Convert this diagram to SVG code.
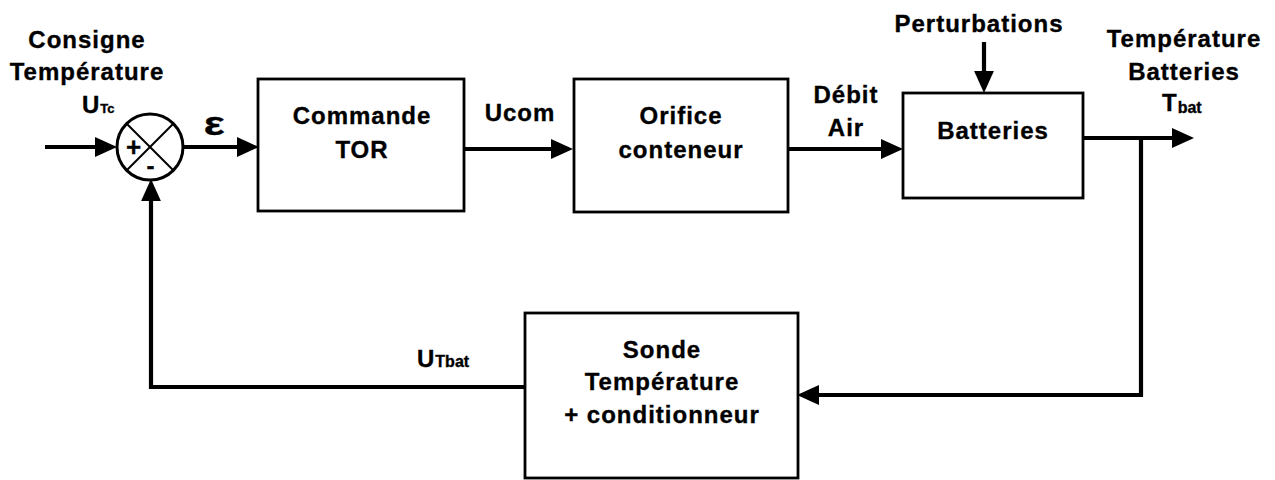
<svg xmlns="http://www.w3.org/2000/svg" width="1275" height="480" viewBox="0 0 1275 480">
<style>
.box{fill:#fff;stroke:#000;stroke-width:2.8}
.wire{fill:none;stroke:#000;stroke-width:4.2}
.thin{stroke:#000;stroke-width:2}
text{font-family:"Liberation Sans",Arial,sans-serif;font-weight:bold;fill:#000;stroke:#000;stroke-width:0.35;font-size:24px;letter-spacing:1px}
.c{text-anchor:middle}
</style>
<defs>
<marker id="arr" markerUnits="userSpaceOnUse" markerWidth="22" markerHeight="20" refX="10" refY="9" orient="auto" viewBox="0 0 20 18">
<path d="M0,0 L20,9 L0,18 z" fill="#000"/>
</marker>
</defs>
<rect width="1275" height="480" fill="#fff"/>
<g id="connectors">
<path class="wire" d="M45,147 H106" marker-end="url(#arr)"/>
<path class="wire" d="M183,147 H248" marker-end="url(#arr)"/>
<path class="wire" d="M464,149 H562" marker-end="url(#arr)"/>
<path class="wire" d="M788,149 H892" marker-end="url(#arr)"/>
<path class="wire" d="M984,42 V82" marker-end="url(#arr)"/>
<path class="wire" d="M1083,138 H1183" marker-end="url(#arr)"/>
<path class="wire" d="M1141,138 V395 H808" marker-end="url(#arr)"/>
<path class="wire" d="M525,387 H151 V190" marker-end="url(#arr)"/>
</g>
<g id="sum">
<circle cx="150" cy="147" r="33" fill="#fff" stroke="#000" stroke-width="3"/>
<line class="thin" x1="127" y1="124" x2="173" y2="170"/>
<line class="thin" x1="173" y1="124" x2="127" y2="170"/>
<text class="c" x="134" y="156" style="font-size:26px">+</text>
<text class="c" x="151" y="174" style="font-size:24px">-</text>
</g>
<g id="label-consigne">
<text class="c" x="87" y="48">Consigne</text>
<text class="c" x="87" y="80">Température</text>
<text x="82" y="113">U<tspan style="font-size:13px;letter-spacing:0">Tc</tspan></text>
</g>
<g id="label-epsilon">
<text class="c" transform="translate(215,135) scale(1.3,1)" x="0" y="0" style="font-size:34px">ε</text>
</g>
<g id="commande">
<rect class="box" x="258" y="79" width="206" height="132"/>
<text class="c" x="362" y="124">Commande</text>
<text class="c" x="362" y="158">TOR</text>
</g>
<g id="label-ucom">
<text class="c" x="520" y="121">Ucom</text>
</g>
<g id="orifice">
<rect class="box" x="574" y="79" width="214" height="133"/>
<text class="c" x="681" y="124">Orifice</text>
<text class="c" x="681" y="158">conteneur</text>
</g>
<g id="label-debit">
<text class="c" x="846" y="103">Débit</text>
<text class="c" x="846" y="136">Air</text>
</g>
<g id="label-perturbations">
<text class="c" x="979" y="32">Perturbations</text>
</g>
<g id="batteries">
<rect class="box" x="903" y="93" width="180" height="105"/>
<text class="c" x="993" y="139">Batteries</text>
</g>
<g id="label-tbat">
<text class="c" x="1184" y="47">Température</text>
<text class="c" x="1184" y="80">Batteries</text>
<text x="1162" y="111">T<tspan style="font-size:16px;letter-spacing:0" dy="2">bat</tspan></text>
</g>
<g id="sonde">
<rect class="box" x="525" y="313" width="273" height="165"/>
<text class="c" x="662" y="358">Sonde</text>
<text class="c" x="662" y="390">Température</text>
<text class="c" x="662" y="423">+ conditionneur</text>
</g>
<g id="label-utbat">
<text x="417" y="367">U<tspan style="font-size:16px;letter-spacing:0">Tbat</tspan></text>
</g>
</svg>
